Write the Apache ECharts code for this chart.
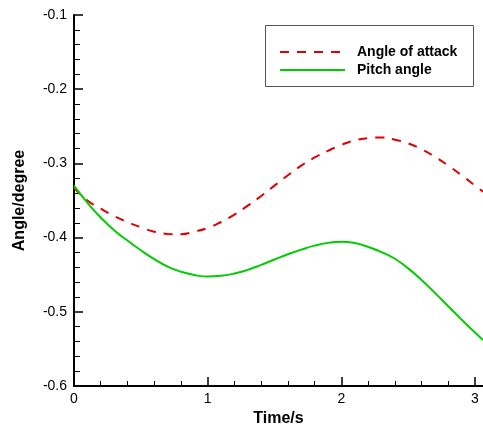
<!DOCTYPE html>
<html>
<head>
<meta charset="utf-8">
<script src="https://cdn.jsdelivr.net/npm/echarts@6/dist/echarts.min.js"></script>
<style>
html,body{margin:0;padding:0;background:#fff;}
#main{width:483px;height:427px;}
</style>
</head>
<body>
<div id="main"></div>
<script>
var timeS = [0,0.1,0.2,0.3,0.4,0.5,0.6,0.7,0.8,0.9,1.0,1.1,1.2,1.3,1.4,1.5,1.6,1.7,1.8,1.9,2.0,2.1,2.2,2.3,2.4,2.5,2.6,2.7,2.8,2.9,3.0,3.06];
var angleOfAttack = [-0.333,-0.350,-0.361,-0.371,-0.379,-0.386,-0.392,-0.395,-0.3955,-0.392,-0.387,-0.379,-0.369,-0.357,-0.344,-0.330,-0.316,-0.303,-0.292,-0.283,-0.275,-0.269,-0.266,-0.265,-0.268,-0.273,-0.281,-0.291,-0.303,-0.316,-0.330,-0.338];
var pitchAngle = [-0.330,-0.353,-0.373,-0.390,-0.404,-0.417,-0.429,-0.439,-0.446,-0.4505,-0.4525,-0.4515,-0.4485,-0.4435,-0.4367,-0.4295,-0.4225,-0.4162,-0.4108,-0.4071,-0.4055,-0.4072,-0.4125,-0.4195,-0.4285,-0.4415,-0.457,-0.4745,-0.4925,-0.5105,-0.528,-0.538];
var xTicks = [0,1,2,3];
var yTicks = [-0.6,-0.5,-0.4,-0.3,-0.2,-0.1];
var seriesNames = ['Angle of attack','Pitch angle'];

function pairs(xs, ys){ return xs.map(function(x,i){ return [x, ys[i]]; }); }

var FONT = 'Liberation Sans, Arial, Helvetica, sans-serif';
var chart = echarts.init(document.getElementById('main'));
chart.setOption({
  animation: false,
  backgroundColor: '#ffffff',
  grid: { left: 74, top: 15, right: 0, bottom: 41, containLabel: false, outerBoundsMode: 'none' },
  graphic: [{
    type: 'rect', left: 265, top: 25, z: 1,
    shape: { width: 208, height: 61 },
    style: { fill: '#ffffff', stroke: '#555555', lineWidth: 1 }
  }],
  legend: {
    orient: 'vertical', left: 279, top: 45, padding: 0, z: 10,
    itemWidth: 65, itemHeight: 14, itemGap: 4,
    data: seriesNames,
    itemStyle: { opacity: 0 },
    textStyle: { fontFamily: FONT, fontSize: 14, fontWeight: 'bold', color: '#000', padding: [0,0,0,7] }
  },
  xAxis: {
    type: 'value', min: 0, max: 3.06, interval: 1,
    name: 'Time/s', nameLocation: 'middle', nameGap: 24,
    nameTextStyle: { fontFamily: FONT, fontSize: 16, fontWeight: 'bold', color: '#000' },
    axisLine: { show: true, onZero: false, lineStyle: { color: '#000', width: 2 } },
    axisTick: { show: true, inside: true, length: 9, customValues: xTicks, lineStyle: { color: '#000', width: 1.5 } },
    minorTick: { show: true, splitNumber: 5, length: 5, lineStyle: { color: '#000', width: 1 } },
    axisLabel: { customValues: xTicks, margin: 6, fontFamily: FONT, fontSize: 14, color: '#000', formatter: function(v){ return String(v); } },
    splitLine: { show: false }
  },
  yAxis: {
    type: 'value', min: -0.6, max: -0.1, interval: 0.1,
    name: 'Angle/degree', nameLocation: 'middle', nameGap: 46,
    nameTextStyle: { fontFamily: FONT, fontSize: 16, fontWeight: 'bold', color: '#000' },
    axisLine: { show: true, onZero: false, lineStyle: { color: '#000', width: 2 } },
    axisTick: { show: true, inside: true, length: 9, customValues: yTicks, lineStyle: { color: '#000', width: 1.5 } },
    minorTick: { show: true, splitNumber: 5, length: 6, lineStyle: { color: '#000', width: 1 } },
    axisLabel: { customValues: yTicks, margin: 7, fontFamily: FONT, fontSize: 14, color: '#000', formatter: function(v){ return v.toFixed(1); } },
    splitLine: { show: false }
  },
  series: [
    { name: seriesNames[0], type: 'line', data: pairs(timeS, angleOfAttack), smooth: 0.5, symbol: 'none',
      lineStyle: { color: '#e00000', width: 2, type: [9, 8] }, itemStyle: { color: '#e00000' } },
    { name: seriesNames[1], type: 'line', data: pairs(timeS, pitchAngle), smooth: 0.5, symbol: 'none',
      lineStyle: { color: '#00cc00', width: 2 }, itemStyle: { color: '#00cc00' } }
  ]
});
</script>
</body>
</html>
